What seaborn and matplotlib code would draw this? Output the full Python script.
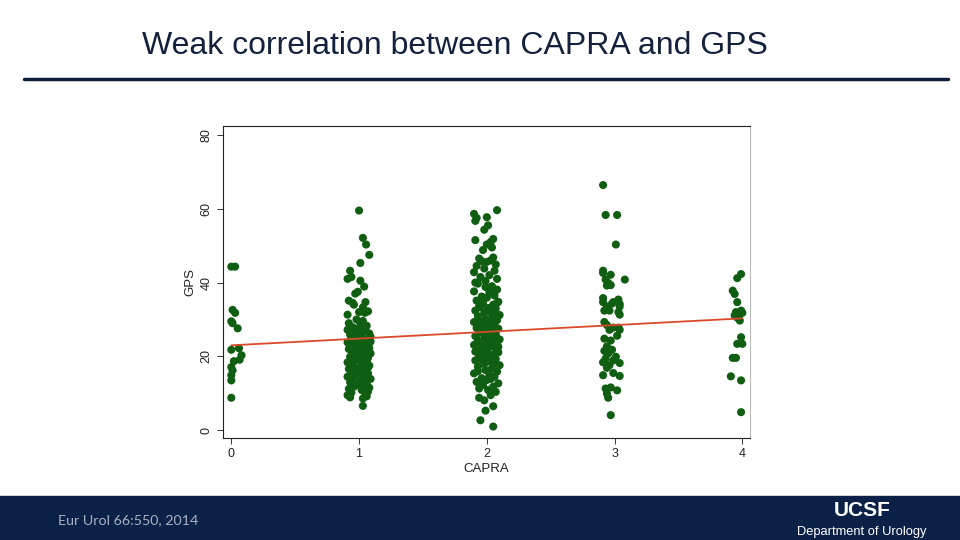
import pandas as pd
import matplotlib.pyplot as plt
import seaborn as sns
from matplotlib.lines import Line2D
from matplotlib.patches import Rectangle

# (jitter, GPS) pairs, one list per CAPRA score
capra_0 = [(0.00, 44.3), (0.03, 44.3), (0.01, 32.6), (0.03, 31.8), (0.00, 29.5), (0.01, 29.0),
           (0.05, 27.6), (0.06, 22.2), (0.00, 21.8), (0.08, 20.3), (0.065, 19.1), (0.02, 18.7),
           (0.00, 17.1), (0.01, 16.2), (0.00, 14.9), (0.00, 13.5), (0.00, 8.8)]

capra_1 = [(0.00, 59.5), (0.03, 52.1), (0.055, 50.3), (0.08, 47.5), (0.01, 45.3), (-0.07, 43.2),
           (-0.06, 41.5), (-0.09, 41.0), (0.01, 40.5), (0.04, 38.9), (-0.01, 37.5), (-0.03, 37.0),
           (-0.08, 35.1), (-0.05, 34.5), (-0.04, 34.0), (0.05, 34.7), (0.03, 33.3), (0.00, 32.0),
           (0.07, 32.2), (0.045, 31.8), (-0.09, 31.3),
           (-0.02, 30.0), (0.03, 29.6), (-0.08, 29.0), (0.01, 28.7), (0.06, 28.3), (-0.05, 27.9),
           (0.00, 27.5), (-0.09, 27.2), (0.04, 26.8), (-0.03, 26.5), (0.08, 26.2), (-0.07, 25.9),
           (0.02, 25.6), (0.09, 25.3), (-0.01, 25.0), (-0.06, 24.7), (0.05, 24.4), (0.00, 24.1),
           (-0.09, 23.8), (0.07, 23.5), (-0.04, 23.2), (0.03, 22.9), (-0.02, 22.6), (0.08, 22.3),
           (-0.08, 22.0), (0.01, 21.7), (0.05, 21.4), (-0.05, 21.1), (0.09, 20.8), (-0.01, 20.5),
           (0.04, 20.2), (-0.07, 19.9), (0.07, 19.6), (0.00, 19.3), (-0.03, 19.0), (0.06, 18.7),
           (-0.09, 18.4), (0.02, 18.1), (-0.05, 17.8), (0.08, 17.5), (0.03, 17.2), (-0.02, 16.9),
           (-0.08, 16.6), (0.05, 16.3), (0.00, 16.0), (-0.06, 15.7), (0.07, 15.4), (0.02, 15.1),
           (-0.03, 14.8), (-0.09, 14.5), (0.04, 14.2), (0.09, 13.9), (-0.05, 13.6), (0.01, 13.3),
           (-0.07, 13.0), (0.06, 12.7), (-0.01, 12.4), (0.03, 12.1), (-0.04, 11.8), (0.08, 11.5),
           (-0.08, 11.2), (0.02, 10.9), (0.07, 10.5), (-0.06, 10.2), (0.05, 9.8), (-0.09, 9.5),
           (0.06, 9.2), (-0.07, 8.9), (0.03, 8.6), (0.03, 6.6),
           (0.05, 27.0), (-0.04, 25.2), (0.06, 23.0), (-0.02, 21.0), (0.03, 19.5), (-0.06, 18.0),
           (0.07, 17.0), (-0.03, 15.5), (0.09, 24.0), (0.01, 20.0), (-0.01, 16.5), (0.04, 22.0),
           (-0.07, 26.8), (0.02, 29.2), (-0.05, 12.2), (0.06, 14.0)]

capra_2 = [(0.08, 59.6), (-0.10, 58.6), (-0.08, 57.5), (0.00, 57.7), (-0.09, 56.7), (0.01, 55.5),
           (-0.02, 54.3), (0.05, 51.8), (-0.09, 51.5), (0.03, 51.0), (0.00, 50.3), (0.04, 49.5),
           (-0.03, 48.8), (0.05, 46.8), (-0.06, 46.5), (0.03, 46.0), (-0.04, 45.8), (0.00, 45.6),
           (0.07, 44.9), (-0.08, 44.5), (-0.02, 43.8), (0.06, 43.2), (-0.10, 42.8), (0.02, 42.0),
           (-0.05, 41.5), (0.08, 41.0), (-0.01, 40.4), (-0.09, 40.0),
           (-0.07, 39.7), (0.04, 39.0), (-0.01, 38.8), (0.08, 38.1), (-0.10, 37.6), (0.02, 37.3),
           (0.06, 36.5), (-0.04, 36.2), (0.00, 35.9), (-0.08, 35.1), (0.09, 34.8), (-0.03, 34.3),
           (0.05, 34.0), (-0.06, 33.6), (0.01, 33.1), (0.07, 32.9), (-0.09, 32.4), (0.03, 32.0),
           (-0.02, 31.7), (0.10, 31.2), (-0.07, 30.9), (0.04, 30.5), (-0.01, 30.1), (0.08, 29.8),
           (-0.10, 29.3), (0.02, 29.0), (0.06, 28.7), (-0.04, 28.4), (0.00, 28.0), (-0.08, 27.7),
           (0.09, 27.5), (-0.03, 27.1), (0.05, 26.8), (-0.06, 26.4), (0.01, 26.2), (0.07, 25.9),
           (-0.09, 25.5), (0.03, 25.2), (-0.02, 24.9), (0.10, 24.6), (-0.07, 24.3), (0.04, 24.0),
           (-0.01, 23.7), (0.08, 23.3), (-0.10, 23.1), (0.02, 22.8), (0.06, 22.4), (-0.04, 22.1),
           (0.00, 21.8), (-0.08, 21.5), (0.09, 21.1), (-0.03, 20.8), (0.05, 20.4), (-0.06, 20.0),
           (0.01, 19.6), (0.07, 19.3), (-0.09, 18.9), (0.03, 18.5), (-0.02, 18.0), (0.10, 17.6),
           (-0.07, 17.2), (0.04, 16.8), (-0.01, 16.3), (0.08, 15.9), (-0.10, 15.4), (0.02, 15.0),
           (0.06, 14.5), (-0.04, 14.1), (0.00, 13.6), (-0.08, 13.1), (0.09, 12.7), (-0.03, 12.2),
           (0.05, 11.8), (-0.06, 11.3), (0.01, 10.9), (0.07, 10.4),
           (0.05, 36.9), (-0.05, 33.3), (0.07, 31.0), (-0.08, 28.9), (0.03, 27.3), (-0.01, 25.7),
           (0.06, 24.4), (-0.05, 23.5), (0.09, 22.6), (-0.09, 21.3), (0.02, 20.6), (-0.04, 19.1),
           (0.06, 18.2), (-0.07, 16.0), (0.03, 13.9), (-0.05, 12.0), (0.08, 34.5), (-0.06, 29.6),
           (0.04, 26.0), (-0.02, 22.9),
           (0.03, 9.5), (-0.06, 8.8), (-0.02, 8.1), (0.05, 6.5), (-0.01, 5.3), (-0.05, 2.7),
           (0.05, 1.0)]

capra_3 = [(-0.09, 66.4), (-0.07, 58.3), (0.02, 58.3), (0.01, 50.3), (-0.09, 43.2), (-0.09, 42.6),
           (-0.03, 42.1), (-0.07, 40.8), (0.08, 40.8), (-0.05, 39.9), (-0.03, 39.3), (-0.06, 39.2),
           (-0.09, 35.8), (-0.09, 34.7), (0.03, 35.4), (0.04, 34.2), (-0.06, 33.5), (-0.02, 34.3),
           (-0.01, 34.7), (0.04, 33.5), (-0.08, 32.4), (-0.04, 32.4), (0.03, 32.0), (0.04, 31.3),
           (-0.08, 29.3), (-0.06, 28.5), (-0.01, 27.8), (0.03, 27.8), (0.04, 27.2), (-0.04, 27.2),
           (-0.08, 24.8), (-0.03, 24.3), (0.02, 25.6), (-0.06, 22.7), (-0.02, 21.8), (-0.08, 21.5),
           (-0.05, 20.8), (0.01, 19.9), (-0.07, 19.4), (-0.01, 18.9), (-0.09, 18.4), (0.04, 18.2),
           (-0.04, 17.6), (-0.06, 16.9), (-0.09, 14.9), (-0.01, 15.5), (0.04, 14.7),
           (-0.07, 11.3), (0.02, 10.8), (-0.06, 9.9), (-0.05, 8.8), (-0.03, 11.6), (-0.03, 4.1)]

capra_4 = [(-0.01, 42.3), (-0.04, 41.2), (-0.075, 37.8), (-0.06, 36.9), (-0.04, 34.7), (-0.05, 32.0),
           (-0.01, 32.4), (-0.02, 31.4), (-0.06, 31.1), (-0.04, 30.5), (-0.02, 29.7), (0.00, 31.8),
           (-0.03, 30.9), (-0.01, 25.2), (-0.04, 23.4), (0.00, 23.4), (-0.075, 19.6), (-0.05, 19.6),
           (-0.09, 14.6), (-0.01, 13.5), (-0.01, 4.9)]

# fitted line end points
fit_capra = [0, 4]
fit_gps = [23.0, 30.3]

rows = []
for score, pts in enumerate([capra_0, capra_1, capra_2, capra_3, capra_4]):
    for jit, gps in pts:
        rows.append({"CAPRA": score + jit, "GPS": gps})
df = pd.DataFrame(rows)
fit = pd.DataFrame({"CAPRA": fit_capra, "GPS": fit_gps})

sns.set_theme(style="white")
plt.rcParams['font.family'] = ['Liberation Sans', 'DejaVu Sans']

fig = plt.figure(figsize=(9.6, 5.4), dpi=100)
ax = fig.add_axes([223/960, 1 - 438/540, (750 - 223)/960, (438 - 126)/540])

sns.scatterplot(data=df, x="CAPRA", y="GPS", ax=ax, color="#0f5e12", s=34,
                edgecolor="none", zorder=2)
sns.lineplot(data=fit, x="CAPRA", y="GPS", ax=ax, color="#d9492a", lw=1.3, zorder=3)

ax.set_xlim(-0.065, 4.06)
ax.set_ylim(-2.1, 82.4)
ax.set_xticks([0, 1, 2, 3, 4])
ax.set_yticks([0, 20, 40, 60, 80])
ax.tick_params(axis="both", direction="out", length=4, width=0.7, color="#333333",
               labelsize=9, labelcolor="#222222", bottom=True, left=True)
for lab in ax.get_yticklabels():
    lab.set_rotation(90)
    lab.set_va("center")
ax.set_xlabel("CAPRA", fontsize=9.5, color="#222222", labelpad=2)
ax.set_ylabel("GPS", fontsize=9.5, color="#222222", labelpad=3)
for side in ["left", "bottom", "top"]:
    ax.spines[side].set_color("#222222")
    ax.spines[side].set_linewidth(0.8)
ax.spines["right"].set_color("#bbbbbb")
ax.spines["right"].set_linewidth(0.8)

# slide decoration
fig.text(142/960, 1 - 46/540, "Weak correlation between CAPRA and GPS", ha="left", va="center",
         fontsize=23, color="#14213d")
fig.add_artist(Line2D([24/960, 948/960], [1 - 79/540, 1 - 79/540], lw=2.5, color="#0d1f3c"))
fig.add_artist(Rectangle((0, 0), 1, 44/540, transform=fig.transFigure, color="#0b2147", zorder=0))
fig.text(58/960, 1 - 520/540, "Eur Urol 66:550, 2014", ha="left", va="center", fontsize=10.3,
         color="#a8b0c2", family="Lato")
fig.text(862/960, 1 - 511/540, "UCSF", ha="center", va="center", fontsize=15, fontweight="bold",
         color="white")
fig.text(862/960, 1 - 532/540, "Department of Urology", ha="center", va="center", fontsize=9.3,
         color="white")

fig.savefig("out.png", dpi=100)
